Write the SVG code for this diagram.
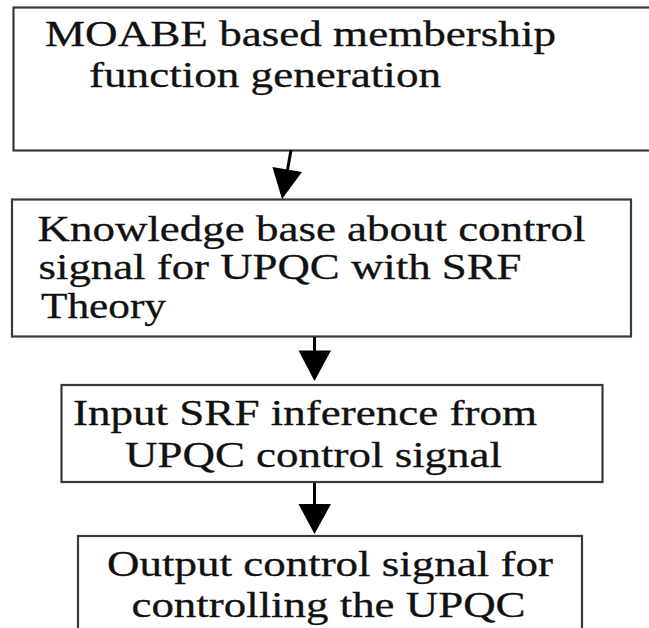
<svg xmlns="http://www.w3.org/2000/svg" width="649" height="628" viewBox="0 0 649 628">
  <style>
    .box { fill: #ffffff; stroke: #3a3a3a; stroke-width: 2.2; }
    .label { font-family: "Liberation Serif", "Times New Roman", serif; font-size: 36px; fill: #111111; stroke: #111111; stroke-width: 0.3; }
    .shaft { stroke: #000000; stroke-width: 3; fill: none; }
    .head { fill: #000000; stroke: none; }
  </style>
  <rect width="649" height="628" fill="#ffffff"/>

  <g id="node-membership">
    <rect class="box" x="13.5" y="7.5" width="660" height="143"/>
    <text class="label" x="45" y="45.5" textLength="511" lengthAdjust="spacingAndGlyphs">MOABE based membership</text>
    <text class="label" x="89" y="87" textLength="352" lengthAdjust="spacingAndGlyphs">function generation</text>
  </g>

  <g id="node-knowledge">
    <rect class="box" x="12" y="199.5" width="619" height="137"/>
    <text class="label" x="37.5" y="240.5" textLength="548" lengthAdjust="spacingAndGlyphs">Knowledge base about control</text>
    <text class="label" x="38.5" y="279" textLength="483" lengthAdjust="spacingAndGlyphs">signal for UPQC with SRF</text>
    <text class="label" x="41" y="318" textLength="125" lengthAdjust="spacingAndGlyphs">Theory</text>
  </g>

  <g id="node-inference">
    <rect class="box" x="61.5" y="385" width="541" height="97"/>
    <text class="label" x="73" y="425" textLength="464" lengthAdjust="spacingAndGlyphs">Input SRF inference from</text>
    <text class="label" x="125" y="466.5" textLength="377" lengthAdjust="spacingAndGlyphs">UPQC control signal</text>
  </g>

  <g id="node-output">
    <rect class="box" x="78" y="536" width="504" height="110"/>
    <text class="label" x="107" y="576" textLength="446" lengthAdjust="spacingAndGlyphs">Output control signal for</text>
    <text class="label" x="131.5" y="617" textLength="394" lengthAdjust="spacingAndGlyphs">controlling the UPQC</text>
  </g>

  <g id="connectors">
    <line class="shaft" x1="291" y1="150" x2="287.5" y2="170"/>
    <polygon class="head" points="272.4,166.9 302,172.1 282,199"/>
    <line class="shaft" x1="314.5" y1="337" x2="314.5" y2="352"/>
    <polygon class="head" points="298.5,350.5 331,350.5 314.5,381"/>
    <line class="shaft" x1="314.5" y1="483" x2="314.5" y2="505"/>
    <polygon class="head" points="298.5,504 331,504 314.5,534"/>
  </g>
</svg>
